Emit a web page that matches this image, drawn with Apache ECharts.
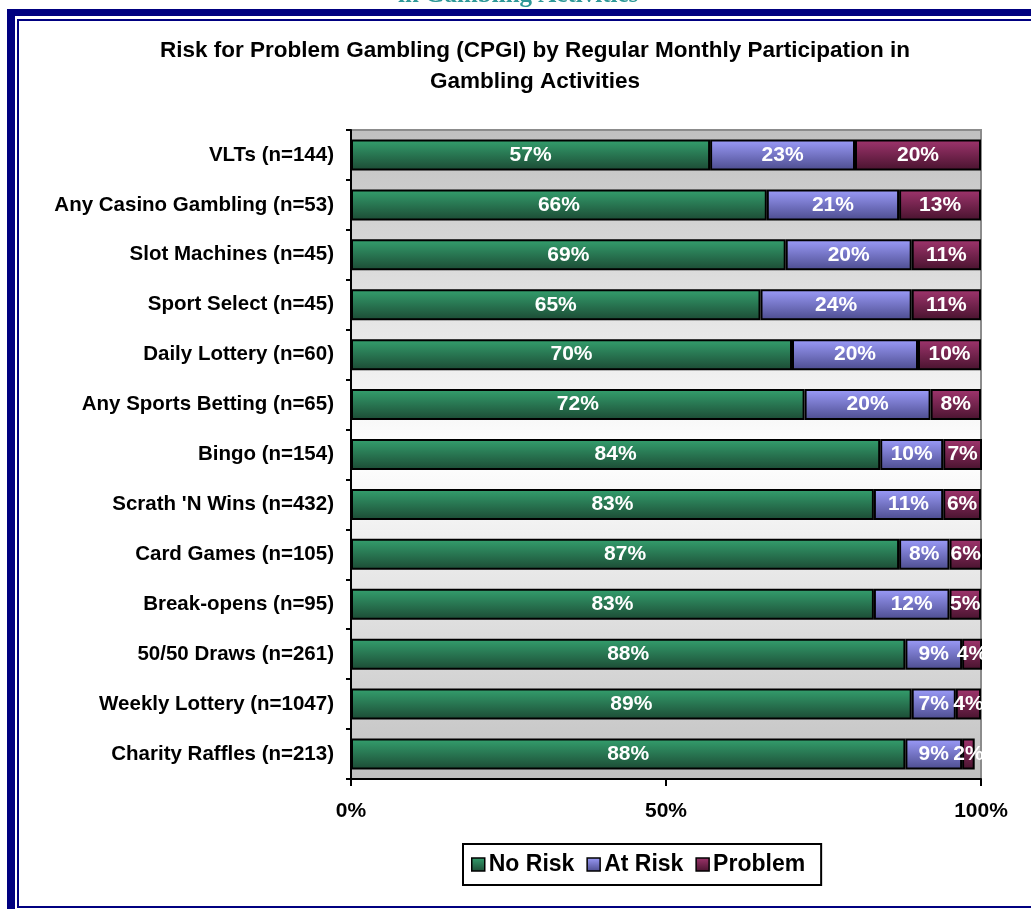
<!DOCTYPE html>
<html>
<head>
<meta charset="utf-8">
<script src="https://cdn.jsdelivr.net/npm/echarts@6/dist/echarts.min.js"></script>
<style>
  html, body { margin: 0; padding: 0; background: #ffffff; }
  #chart { width: 1031px; height: 909px; }
</style>
</head>
<body>
<div id="chart"></div>
<script>
// Gambling activities (regular monthly participation) and CPGI risk shares, in percent
const categories = [
  "VLTs (n=144)",
  "Any Casino Gambling (n=53)",
  "Slot Machines (n=45)",
  "Sport Select (n=45)",
  "Daily Lottery (n=60)",
  "Any Sports Betting (n=65)",
  "Bingo (n=154)",
  "Scrath 'N Wins (n=432)",
  "Card Games (n=105)",
  "Break-opens (n=95)",
  "50/50 Draws (n=261)",
  "Weekly Lottery (n=1047)",
  "Charity Raffles (n=213)"
];
const noRisk  = [57, 66, 69, 65, 70, 72, 84, 83, 87, 83, 88, 89, 88];
const atRisk  = [23, 21, 20, 24, 20, 20, 10, 11,  8, 12,  9,  7,  9];
const problem = [20, 13, 11, 11, 10,  8,  7,  6,  6,  5,  4,  4,  2];
const xTicks = [0, 50, 100];

const FONT = "'Liberation Sans', Arial, sans-serif";
const NAVY = '#000080';

function vgrad(top, bottom) {
  return { type: 'linear', x: 0, y: 0, x2: 0, y2: 1,
    colorStops: [{ offset: 0, color: top }, { offset: 1, color: bottom }] };
}

const seriesDefs = [
  { name: 'No Risk', data: noRisk, color: vgrad('#34a06e', '#1c4a34') },
  { name: 'At Risk', data: atRisk, color: vgrad('#9c9cfa', '#4c4c8e') },
  { name: 'Problem', data: problem, color: vgrad('#a0356e', '#48132e') }
];

const chart = echarts.init(document.getElementById('chart'), null, { renderer: 'canvas' });

chart.setOption({
  animation: false,
  backgroundColor: '#ffffff',
  title: {
    text: 'Risk for Problem Gambling (CPGI) by Regular Monthly Participation in\nGambling Activities',
    left: 530,
    textAlign: 'center',
    top: 30,
    textStyle: { fontFamily: FONT, fontWeight: 'bold', fontSize: 22.5, lineHeight: 31, color: '#000' }
  },
  legend: {
    left: 463,
    top: 844,
    orient: 'horizontal',
    icon: 'rect',
    itemWidth: 13,
    itemHeight: 13,
    itemGap: 12,
    padding: [9, 16, 9, 8],
    borderColor: '#000',
    borderWidth: 2,
    backgroundColor: '#fff',
    textStyle: { fontFamily: FONT, fontWeight: 'bold', fontSize: 23, color: '#000', padding: [0, 0, 0, -1] },
    itemStyle: { borderColor: '#000', borderWidth: 1.5 },
    data: seriesDefs.map(s => s.name)
  },
  grid: {
    left: 351,
    right: 50,
    top: 130,
    bottom: 130,
    show: true,
    borderColor: '#8c8c8c',
    borderWidth: 2,
    backgroundColor: { type: 'linear', x: 0, y: 0, x2: 0, y2: 1,
      colorStops: [
        { offset: 0, color: '#c0c0c0' },
        { offset: 0.5, color: '#ffffff' },
        { offset: 1, color: '#c0c0c0' }
      ] }
  },
  xAxis: {
    type: 'value',
    min: xTicks[0],
    max: xTicks[xTicks.length - 1],
    interval: xTicks[1] - xTicks[0],
    axisLine: { show: true, lineStyle: { color: '#000', width: 2 } },
    axisTick: { show: true, length: 7, lineStyle: { color: '#000', width: 2 } },
    splitLine: { show: false },
    axisLabel: {
      formatter: '{value}%', margin: 22,
      fontFamily: FONT, fontWeight: 'bold', fontSize: 21, color: '#000'
    }
  },
  yAxis: {
    type: 'category',
    inverse: true,
    data: categories,
    axisLine: { show: true, lineStyle: { color: '#000', width: 2 } },
    axisTick: { show: true, length: 5, alignWithLabel: false, lineStyle: { color: '#000', width: 2 } },
    splitLine: { show: false },
    axisLabel: {
      margin: 17,
      fontFamily: FONT, fontWeight: 'bold', fontSize: 20.5, color: '#000'
    }
  },
  series: seriesDefs.map(s => ({
    name: s.name,
    type: 'bar',
    stack: 'total',
    data: s.data,
    barWidth: 31,
    clip: true,
    itemStyle: { color: s.color, borderColor: '#000', borderWidth: 2 },
    label: {
      show: true,
      position: 'inside',
      formatter: '{c}%',
      fontFamily: FONT, fontWeight: 'bold', fontSize: 21, color: '#fff'
    }
  })),
  graphic: [
    // page heading peeking above the frame
    { type: 'text', left: 398, top: -17, z: 10,
      style: { text: 'in Gambling Activities', fill: '#2e9898',
        font: 'bold 25px "Liberation Serif", "Times New Roman", serif' } },
    // double navy frame
    { type: 'rect', shape: { x: 7, y: 9, width: 1024, height: 7 }, style: { fill: NAVY } },
    { type: 'rect', shape: { x: 7, y: 9, width: 8, height: 900 }, style: { fill: NAVY } },
    { type: 'rect', shape: { x: 17, y: 19, width: 1014, height: 2 }, style: { fill: NAVY } },
    { type: 'rect', shape: { x: 17, y: 19, width: 2, height: 889 }, style: { fill: NAVY } },
    { type: 'rect', shape: { x: 17, y: 906, width: 1014, height: 2 }, style: { fill: NAVY } }
  ]
});
</script>
</body>
</html>
